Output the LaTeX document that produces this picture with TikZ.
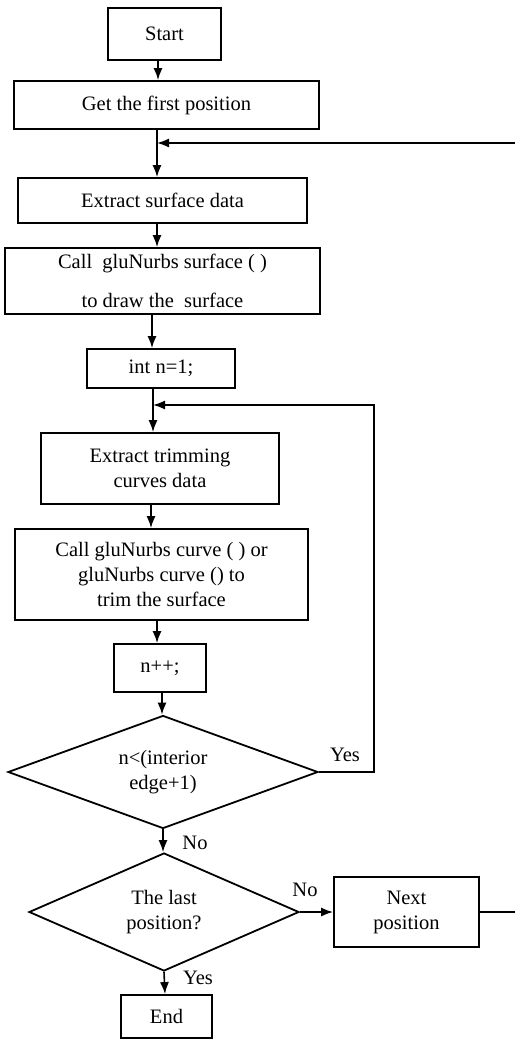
\documentclass[tikz,border=0pt]{standalone}
\usepackage{fontspec}
\setmainfont{Liberation Serif}
\usetikzlibrary{arrows.meta,shapes.geometric}
\begin{document}
\begin{tikzpicture}[x=1pt,y=-1pt,
  box/.style={draw,line width=1.8pt,rectangle,inner sep=2pt,align=center,font=\fontsize{20.5}{25}\selectfont},
  dec/.style={draw,line width=1.8pt,diamond,aspect=2.7,inner sep=1pt,align=center,font=\fontsize{20.5}{25}\selectfont},
  arr/.style={line width=1.6pt,-{Latex[length=12pt,width=9pt]}},
  ln/.style={line width=1.6pt},
  lbl/.style={font=\fontsize{20.5}{25}\selectfont,inner sep=0pt}]
\useasboundingbox (0,0) rectangle (515,1040);

\node[box,minimum width=113pt,minimum height=52pt] (start) at (164.5,34) {Start};
\node[box,minimum width=305pt,minimum height=48pt] (get) at (166.5,105) {Get the first position};
\node[box,minimum width=289pt,minimum height=45pt] (esd) at (162.5,200.5) {Extract surface data};
\node[box,minimum width=315pt,minimum height=66pt,font=\fontsize{20.5}{39}\selectfont] (callsurf) at (162.5,281) {Call\ \ gluNurbs surface ( )\\to draw the\ \ surface};
\node[box,minimum width=148pt,minimum height=39pt] (intn) at (161,368.5) {int n=1;};
\node[box,minimum width=238pt,minimum height=71pt] (etc) at (160,468.5) {Extract trimming\\curves data};
\node[box,minimum width=293pt,minimum height=91pt] (callcurve) at (161.5,574.5) {Call gluNurbs curve ( ) or\\gluNurbs curve () to\\trim the surface};
\node[box,minimum width=92pt,minimum height=48pt] (npp) at (160,668) {n++;};
\node[dec,minimum width=310pt,minimum height=113pt] (d1) at (163,772) {n<(interior\\edge+1)};
\node[dec,minimum width=270pt,minimum height=118pt] (d2) at (164,912) {The last\\position?};
\node[box,minimum width=145pt,minimum height=70pt] (next) at (406.5,912) {Next\\position};
\node[box,minimum width=91pt,minimum height=43pt] (end) at (166.5,1016.5) {End};

\node[lbl] (yes1) at (345,755) {Yes};
\node[lbl] (no1) at (195,843) {No};
\node[lbl] (no2) at (305,890) {No};
\node[lbl] (yes2) at (198,978) {Yes};

\coordinate (fbR) at (515,143);
\coordinate (nxR) at (515,912);
\coordinate (r2) at (374,405);

\draw[arr] ([xshift=-6.5pt]start.south) -- ([xshift=-8.5pt]get.north);
\draw[arr] ([xshift=-9.5pt]get.south) -- ([xshift=-5.5pt]esd.north);
\draw[arr] (fbR) -- ([xshift=-9.5pt]get.south |- fbR);
\draw[arr] ([xshift=-5.5pt]esd.south) -- ([xshift=-5.5pt]callsurf.north);
\draw[arr] ([xshift=-10.5pt]callsurf.south) -- ([xshift=-9pt]intn.north);
\draw[arr] ([xshift=-8pt]intn.south) -- ([xshift=-7pt]etc.north);
\draw[arr] ([xshift=-9pt]etc.south) -- ([xshift=-10.5pt]callcurve.north);
\draw[arr] ([xshift=-4.5pt]callcurve.south) -- ([xshift=-3pt]npp.north);
\draw[arr] ([xshift=2pt]npp.south) -- ([xshift=-1pt]d1.north);
\draw[arr] (d1.south) -- ([xshift=-1pt]d2.north);
\draw[arr] (d2.south) -- ([xshift=-1.5pt]end.north);
\draw[arr] (d1.east) -| (r2) -- ([xshift=-8pt]intn.south |- r2);
\draw[arr] (d2.east) -- (next.west);
\draw[ln] (next.east) -- (nxR);
\end{tikzpicture}
\end{document}
